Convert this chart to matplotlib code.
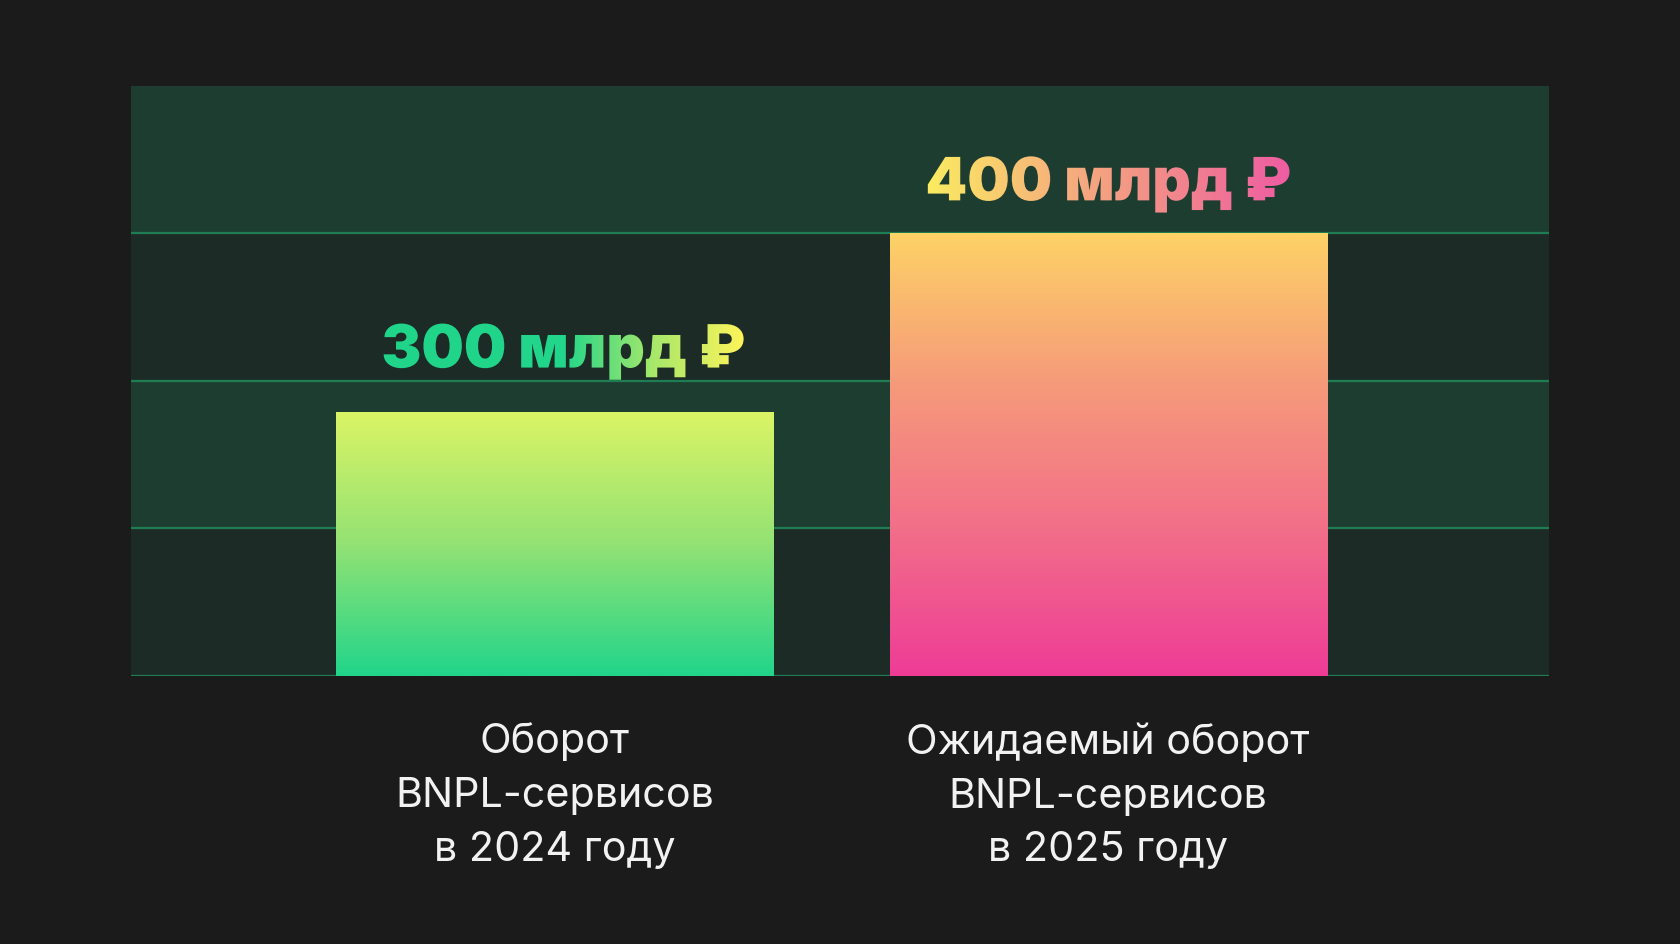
import numpy as np
import matplotlib
matplotlib.use("Agg")
import matplotlib.pyplot as plt
from matplotlib.colors import LinearSegmentedColormap
from matplotlib.patheffects import AbstractPathEffect
from matplotlib.transforms import TransformedPath

# ---------------- data ----------------
categories = ["Оборот\nBNPL-сервисов\nв 2024 году",
              "Ожидаемый оборот\nBNPL-сервисов\nв 2025 году"]
values = [300, 400]
value_labels = ["300 млрд ₽", "400 млрд ₽"]

# ---------------- style ----------------
BG = "#1b1b1b"
BAND_DARK = "#1c2b26"
BAND_LIGHT = "#1e3d31"
GRID = "#1f7d54"
bar_gradients = [["#dbf465", "#93e274", "#21d58b"],
                 ["#fdd266", "#f69b7a", "#f26f89", "#ee3c96"]]
text_gradients = [["#20d48a", "#20d48a", "#22d68a", "#a8e86a", "#fff45a"],
                  ["#fbec60", "#f6b67a", "#f2888c", "#ee5ca2"]]
label_offsets_pt = [(6, 32.5), (0, 23.5)]
y_bottom, y_top = 153.5, 481.8

plt.rcParams["font.family"] = ["Inter", "DejaVu Sans"]


class GradientText(AbstractPathEffect):
    """Fill text glyphs with a horizontal gradient."""

    def __init__(self, colors):
        super().__init__()
        self.cmap = LinearSegmentedColormap.from_list("g", colors)

    def draw_path(self, renderer, gc, tpath, affine, rgbFace=None):
        path = tpath.transformed(affine)
        ext = path.get_extents()
        x0, y0 = int(np.floor(ext.x0)) - 1, int(np.floor(ext.y0)) - 1
        w = int(np.ceil(ext.x1)) - x0 + 2
        h = int(np.ceil(ext.y1)) - y0 + 2
        rgba = self.cmap(np.linspace(0, 1, w))
        img = (np.tile(rgba[None, :, :], (h, 1, 1)) * 255).astype(np.uint8)
        gc0 = renderer.new_gc()
        gc0.copy_properties(gc)
        gc0.set_clip_path(TransformedPath(tpath, affine))
        renderer.draw_image(gc0, x0, y0, img)
        gc0.restore()


fig = plt.figure(figsize=(16.8, 9.45), dpi=100, facecolor=BG)
ax = fig.add_axes([131 / 1680, (945 - 677) / 945, 1418 / 1680, 590 / 945])
ax.set_facecolor(BAND_DARK)

x = np.arange(len(values))
width = 0.79

# alternating background bands and grid lines
grid_vals = np.linspace(y_bottom, max(values), 4)
edges = list(grid_vals) + [y_top]
for i in range(len(edges) - 1):
    if i % 2 == 1:
        ax.axhspan(edges[i], edges[i + 1], color=BAND_LIGHT, lw=0, zorder=0.1)
ax.set_yticks(grid_vals)
ax.yaxis.grid(True, color=GRID, lw=1.6, zorder=0.5)
ax.set_axisbelow(True)

# bars with vertical gradient
heights = np.array(values) - y_bottom
bars = ax.bar(x, heights, bottom=y_bottom, width=width, color="none",
              edgecolor="none", zorder=2)
for bar, cols in zip(bars, bar_gradients):
    cmap = LinearSegmentedColormap.from_list("b", cols)
    grad = cmap(np.linspace(0, 1, 256))[:, None, :3]
    bx, by = bar.get_x(), bar.get_y()
    ax.imshow(grad, extent=[bx, bx + bar.get_width(), by, by + bar.get_height()],
              aspect="auto", origin="upper", clip_path=bar, zorder=2,
              interpolation="bilinear")

# value labels
for xi, v, lab, cols, off in zip(x, values, value_labels, text_gradients,
                                 label_offsets_pt):
    ax.annotate(lab, xy=(xi, v), xytext=off, textcoords="offset points",
                ha="center", va="baseline", fontsize=43, fontweight="black",
                color=cols[len(cols) // 2], zorder=5,
                path_effects=[GradientText(cols)])

ax.set_xlim(-0.766, 1.797)
ax.set_ylim(y_bottom, y_top)

ax.set_xticks(x, categories)
ax.tick_params(axis="x", length=0, pad=32.5, labelsize=29.7, labelcolor="#f2f2f2")
for t in ax.get_xticklabels():
    t.set_linespacing(1.53)
ax.tick_params(axis="y", length=0, labelleft=False)
for s in ax.spines.values():
    s.set_visible(False)

fig.savefig("out.png", dpi=100, facecolor=BG)
